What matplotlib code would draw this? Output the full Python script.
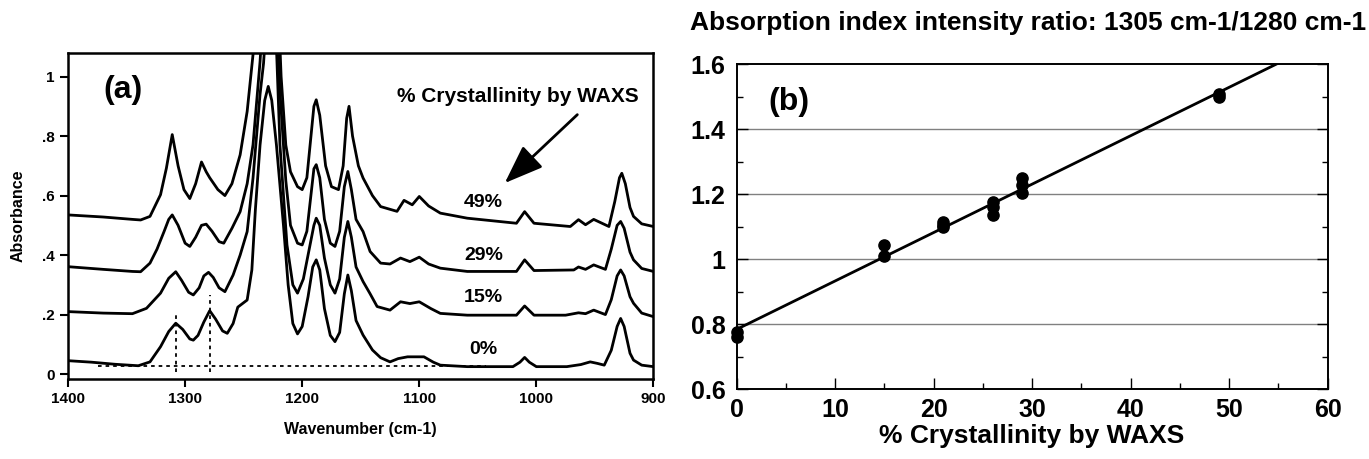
import numpy as np
import matplotlib
matplotlib.use('Agg')
import matplotlib.pyplot as plt

# ---- panel (a): IR spectra ----
wn_0 = [1400, 1380, 1360, 1340, 1330, 1321, 1314, 1308, 1302, 1296, 1293, 1289, 1284, 1279, 1274,
        1268, 1264, 1259, 1255, 1250, 1247, 1243, 1240, 1236, 1232, 1229, 1226, 1222, 1216, 1212,
        1208, 1204, 1200, 1195, 1191, 1188, 1185, 1181, 1176, 1172, 1168, 1164, 1161, 1158, 1154,
        1148, 1140, 1133, 1125, 1118, 1110, 1096, 1088, 1082, 1059, 1020, 1014, 1010, 1006, 1000,
        974, 962, 954, 948, 942, 936, 931, 928, 925, 920, 917, 910, 900]
abs_0 = [0.045, 0.040, 0.033, 0.028, 0.041, 0.092, 0.143, 0.171, 0.150, 0.118, 0.114, 0.130, 0.175, 0.213, 0.185,
         0.145, 0.137, 0.170, 0.225, 0.240, 0.249, 0.350, 0.552, 0.770, 0.920, 0.967, 0.920, 0.770, 0.500, 0.300,
         0.170, 0.135, 0.160, 0.260, 0.360, 0.384, 0.350, 0.220, 0.130, 0.109, 0.140, 0.270, 0.333, 0.280, 0.180,
         0.131, 0.081, 0.055, 0.041, 0.052, 0.058, 0.058, 0.040, 0.030, 0.025, 0.025, 0.040, 0.056, 0.040, 0.025,
         0.025, 0.032, 0.041, 0.036, 0.030, 0.080, 0.160, 0.187, 0.160, 0.070, 0.047, 0.030, 0.025]

wn_15 = [1400, 1370, 1345, 1333, 1321, 1314, 1308, 1303, 1297, 1293, 1288, 1284, 1280, 1276, 1271,
         1266, 1259, 1253, 1247, 1242, 1236, 1233, 1228, 1222, 1219, 1213, 1208, 1204, 1199, 1194,
         1190, 1188, 1185, 1181, 1176, 1172, 1168, 1164, 1161, 1158, 1154, 1148, 1142, 1136, 1125,
         1116, 1108, 1100, 1090, 1082, 1059, 1017, 1010, 1002, 975, 964, 958, 951, 941, 936,
         931, 928, 925, 920, 917, 910, 900]
abs_15 = [0.210, 0.205, 0.203, 0.221, 0.272, 0.322, 0.344, 0.315, 0.275, 0.266, 0.290, 0.330, 0.342, 0.325, 0.290,
          0.277, 0.333, 0.400, 0.479, 0.659, 0.940, 1.045, 1.350, 1.100, 0.770, 0.434, 0.300, 0.272, 0.320, 0.420,
          0.500, 0.524, 0.500, 0.390, 0.300, 0.272, 0.320, 0.460, 0.513, 0.460, 0.360, 0.311, 0.270, 0.227, 0.215,
          0.243, 0.237, 0.243, 0.220, 0.204, 0.198, 0.198, 0.229, 0.198, 0.198, 0.206, 0.203, 0.215, 0.200, 0.250,
          0.330, 0.350, 0.330, 0.260, 0.238, 0.205, 0.193]

wn_29 = [1400, 1370, 1345, 1338, 1330, 1324, 1318, 1314, 1311, 1306, 1300, 1296, 1291, 1286, 1282,
         1277, 1271, 1267, 1260, 1253, 1247, 1242, 1236, 1229, 1222, 1219, 1214, 1210, 1204, 1200,
         1196, 1192, 1190, 1188, 1185, 1181, 1176, 1172, 1168, 1164, 1161, 1158, 1154, 1148, 1142,
         1133, 1125, 1116, 1108, 1100, 1092, 1082, 1059, 1017, 1010, 1002, 968, 964, 958, 951,
         941, 936, 931, 928, 925, 920, 917, 910, 900]
abs_29 = [0.361, 0.352, 0.345, 0.344, 0.373, 0.420, 0.479, 0.520, 0.535, 0.500, 0.440, 0.429, 0.460, 0.500, 0.504,
          0.480, 0.445, 0.440, 0.490, 0.546, 0.640, 0.771, 1.050, 1.500, 1.200, 0.950, 0.650, 0.500, 0.440, 0.434,
          0.480, 0.620, 0.690, 0.704, 0.660, 0.520, 0.440, 0.429, 0.480, 0.630, 0.681, 0.620, 0.520, 0.479, 0.412,
          0.373, 0.370, 0.390, 0.378, 0.393, 0.370, 0.356, 0.345, 0.345, 0.384, 0.348, 0.350, 0.360, 0.352, 0.367,
          0.352, 0.420, 0.500, 0.513, 0.490, 0.410, 0.384, 0.355, 0.345]

wn_49 = [1400, 1370, 1345, 1338, 1330, 1321, 1316, 1311, 1306, 1301, 1296, 1291, 1286, 1282, 1279,
         1272, 1266, 1260, 1253, 1247, 1242, 1236, 1228, 1222, 1218, 1214, 1210, 1204, 1200, 1196,
         1192, 1190, 1188, 1185, 1180, 1175, 1169, 1165, 1162, 1160, 1157, 1152, 1148, 1140, 1133,
         1119, 1113, 1106, 1100, 1092, 1082, 1059, 1017, 1010, 1002, 971, 964, 958, 951, 938,
         933, 929, 927, 924, 920, 917, 910, 900]
abs_49 = [0.535, 0.528, 0.520, 0.518, 0.530, 0.603, 0.692, 0.805, 0.700, 0.620, 0.590, 0.640, 0.713, 0.680, 0.660,
          0.620, 0.600, 0.640, 0.737, 0.883, 1.074, 1.400, 1.600, 1.400, 1.000, 0.770, 0.680, 0.630, 0.620, 0.660,
          0.820, 0.900, 0.922, 0.870, 0.700, 0.630, 0.620, 0.700, 0.860, 0.900, 0.800, 0.700, 0.659, 0.600, 0.563,
          0.547, 0.584, 0.569, 0.597, 0.565, 0.541, 0.524, 0.507, 0.546, 0.507, 0.496, 0.519, 0.502, 0.520, 0.496,
          0.580, 0.660, 0.675, 0.640, 0.560, 0.530, 0.505, 0.496]

spectra = [(wn_0, abs_0), (wn_15, abs_15), (wn_29, abs_29), (wn_49, abs_49)]
labels = ['0%', '15%', '29%', '49%']
label_y = [0.081, 0.256, 0.400, 0.576]

# baseline / peak markers used for the ratio
peak_wn = [1307.5, 1279]
peak_top = [0.200, 0.266]
base_wn = [1374, 1043]
base_abs = 0.028

# ---- panel (b): ratio vs crystallinity ----
cryst = [0, 0, 15, 15, 21, 21, 21, 26, 26, 26, 29, 29, 29, 49, 49]
ratio = [0.775, 0.760, 1.043, 1.009, 1.115, 1.105, 1.100, 1.175, 1.160, 1.135, 1.250, 1.228, 1.203, 1.510, 1.500]

fam = 'Liberation Sans'

fig = plt.figure(figsize=(13.69, 4.59), dpi=100)

# ---------------- (a) ----------------
ax = fig.add_axes([0.0497, 0.174, 0.4276, 0.711])
for w, a in spectra:
    ax.plot(w, a, color='black', lw=2.0, solid_joinstyle='round')

ax.plot(base_wn, [base_abs, base_abs], color='black', lw=1.3, ls=(0, (2, 2.2)))
for w, t in zip(peak_wn, peak_top):
    ax.plot([w, w], [0.008, t], color='black', lw=1.3, ls=(0, (2, 2.2)))

for lab, y in zip(labels, label_y):
    ax.text(1045, y, lab, ha='center', va='center', fontsize=14, fontweight='bold', family=fam)
ax.text(1016, 0.934, '% Crystallinity by WAXS', ha='center', va='center', fontsize=15,
        fontweight='bold', family=fam)
ax.annotate('', xy=(1027, 0.642), xytext=(965, 0.872),
            arrowprops=dict(arrowstyle='-|>,head_length=1.2,head_width=0.45', color='black',
                            lw=2.0, mutation_scale=20, shrinkA=0, shrinkB=0))
ax.text(1353, 0.956, '(a)', ha='center', va='center', fontsize=23, fontweight='bold', family=fam)

ax.set_xlim(1400, 900)
ax.set_ylim(-0.017, 1.08)
ax.set_xticks([1400, 1300, 1200, 1100, 1000, 900])
ax.set_xticklabels(['1400', '1300', '1200', '1100', '1000', '900'])
ax.set_yticks([0, 0.2, 0.4, 0.6, 0.8, 1.0])
ax.set_yticklabels(['0', '.2', '.4', '.6', '.8', '1'])
ax.tick_params(direction='out', length=6, width=1.5, labelsize=11)
for lab in ax.get_xticklabels() + ax.get_yticklabels():
    lab.set_fontweight('bold')
    lab.set_family(fam)
for s in ax.spines.values():
    s.set_linewidth(1.8)
ax.set_xlabel('Wavenumber (cm-1)', fontsize=11.5, fontweight='bold', family=fam, labelpad=11)
ax.set_ylabel('Absorbance', fontsize=11.5, fontweight='bold', family=fam, labelpad=12)

# ---------------- (b) ----------------
bx = fig.add_axes([0.538, 0.1518, 0.4317, 0.708])
bx.set_xlim(0, 60)
bx.set_ylim(0.6, 1.6)
for g in [0.8, 1.0, 1.2, 1.4]:
    bx.axhline(g, color='#808080', lw=1.0, zorder=0)

slope, icpt = np.polyfit(cryst, ratio, 1)
xfit = np.array([0, 60])
bx.plot(xfit, icpt + slope * xfit, color='black', lw=2.0)
bx.scatter(cryst, ratio, s=65, color='black', zorder=3, clip_on=False)

bx.text(5.3, 1.483, '(b)', ha='center', va='center', fontsize=23, fontweight='bold', family=fam)

bx.set_xticks(np.arange(0, 61, 10))
bx.set_xticks(np.arange(5, 60, 10), minor=True)
bx.set_yticks([0.6, 0.8, 1.0, 1.2, 1.4, 1.6])
bx.set_yticklabels(['0.6', '0.8', '1', '1.2', '1.4', '1.6'])
bx.set_yticks([0.7, 0.9, 1.1, 1.3, 1.5], minor=True)
bx.tick_params(which='both', direction='in', width=1.0, right=True, labelsize=18)
bx.tick_params(axis='y', pad=8)
bx.tick_params(axis='x', pad=6)
bx.tick_params(which='major', length=8)
bx.tick_params(which='minor', length=4)
for lab in bx.get_xticklabels() + bx.get_yticklabels():
    lab.set_fontweight('bold')
    lab.set_family(fam)
for s in bx.spines.values():
    s.set_linewidth(1.4)
bx.set_xlabel('% Crystallinity by WAXS', fontsize=19, fontweight='bold', family=fam, labelpad=2)

fig.text(0.7508, 0.950, 'Absorption index intensity ratio: 1305 cm-1/1280 cm-1', ha='center',
         va='center', fontsize=19, fontweight='bold', family=fam)

fig.savefig('out.png', dpi=100)
